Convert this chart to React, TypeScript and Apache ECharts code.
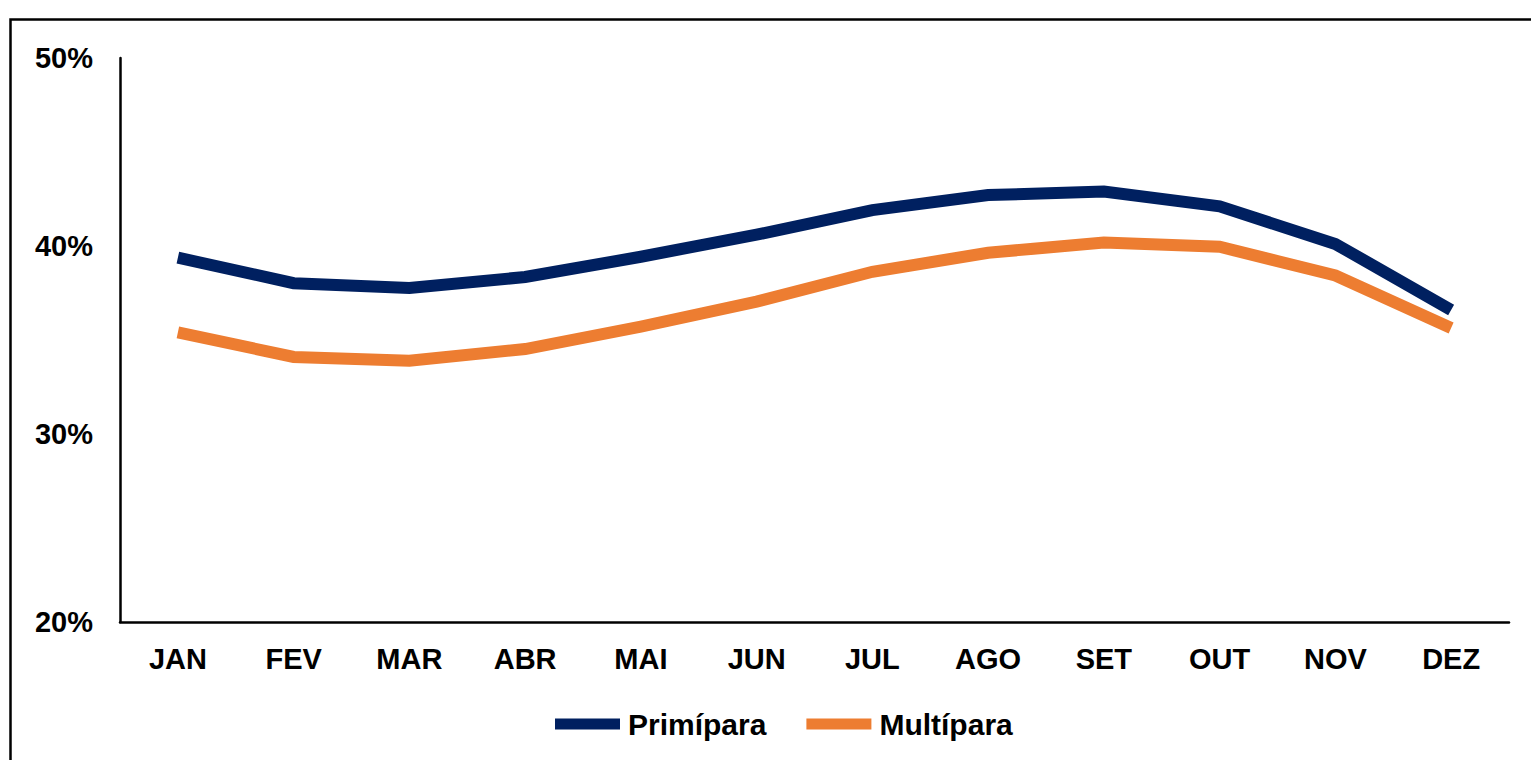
import React, { useEffect, useRef } from "react";
import * as echarts from "echarts";

const months = ["JAN", "FEV", "MAR", "ABR", "MAI", "JUN", "JUL", "AGO", "SET", "OUT", "NOV", "DEZ"];
const primipara = [39.38, 38.02, 37.77, 38.35, 39.43, 40.6, 41.91, 42.71, 42.9, 42.11, 40.11, 36.6];
const multipara = [35.4, 34.1, 33.9, 34.52, 35.71, 37.04, 38.63, 39.64, 40.18, 39.96, 38.43, 35.64];
const seriesNames = ["Primípara", "Multípara"];
const colors = ["#002060", "#ED7D31"];

const FONT = "Arial, 'Liberation Sans', sans-serif";

export default function App() {
  const ref = useRef<HTMLDivElement>(null);
  useEffect(() => {
    if (!ref.current) return;
    const chart = echarts.init(ref.current, undefined, { renderer: "svg" });
    chart.setOption({
      animation: false,
      backgroundColor: "#ffffff",
      graphic: [
        {
          type: "rect",
          shape: { x: 10.5, y: 19.5, width: 1700, height: 900 },
          style: { fill: "none", stroke: "#000", lineWidth: 2.5 },
          silent: true,
        },
      ],
      grid: { left: 120, top: 58, right: 22, bottom: 138, containLabel: false },
      legend: {
        left: 555,
        top: 709,
        padding: 0,
        itemWidth: 65,
        itemHeight: 11,
        itemGap: 40,
        icon: "rect",
        textStyle: { fontFamily: FONT, fontWeight: "bold", fontSize: 30, color: "#000", padding: [0, 0, 0, 3] },
        data: seriesNames.map((n, i) => ({ name: n, itemStyle: { color: colors[i] } })),
      },
      xAxis: {
        type: "category",
        data: months,
        boundaryGap: true,
        axisLine: { lineStyle: { color: "#000", width: 2.5 } },
        axisTick: { show: false },
        axisLabel: { fontFamily: FONT, fontWeight: "bold", fontSize: 29, color: "#000", margin: 22 },
        splitLine: { show: false },
      },
      yAxis: {
        type: "value",
        min: 20,
        max: 50,
        interval: 10,
        axisLine: { show: true, lineStyle: { color: "#000", width: 2.5 } },
        axisTick: { show: false },
        splitLine: { show: false },
        axisLabel: {
          fontFamily: FONT,
          fontWeight: "bold",
          fontSize: 29,
          color: "#000",
          margin: 27,
          formatter: "{value}%",
        },
      },
      series: [primipara, multipara].map((d, i) => ({
        name: seriesNames[i],
        type: "line",
        data: d,
        symbol: "none",
        smooth: false,
        lineStyle: { color: colors[i], width: 12, cap: "butt", join: "miter" },
        itemStyle: { color: colors[i] },
      })),
    });
    return () => chart.dispose();
  }, []);
  return (
    <div
      ref={ref}
      style={{ position: "fixed", left: 0, top: 0, width: 1531, height: 760 }}
    />
  );
}
